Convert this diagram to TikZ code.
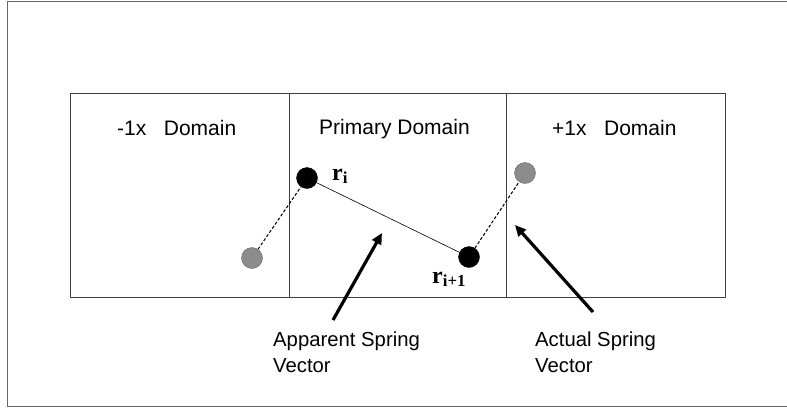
\documentclass[tikz,border=0pt]{standalone}
\usepackage{fontspec}
\setmainfont{Liberation Sans}
\newfontfamily\serifbf{Liberation Serif}
\usetikzlibrary{arrows.meta}
\begin{document}
\begin{tikzpicture}[x=1pt,y=-1pt,
  frame/.style={draw=black!75,line width=1pt},
  lbl/.style={font=\fontsize{21}{26}\selectfont,inner sep=0pt},
  note/.style={font=\fontsize{20.3}{26}\selectfont,inner sep=0pt,align=left},
  rlbl/.style={font=\serifbf\bfseries\fontsize{24}{26}\selectfont,inner sep=0pt},
  blackball/.style={circle,fill=black,draw=black,minimum size=21pt,inner sep=0pt},
  grayball/.style={circle,fill=black!45,draw=black!60,minimum size=21pt,inner sep=0pt},
  spring/.style={draw=black,line width=0.6pt},
  image/.style={draw=black,line width=1pt,dash pattern=on 3pt off 2pt},
  pointer/.style={draw=black,line width=3.2pt,-{Triangle[length=11pt,width=10pt]}}]
\useasboundingbox (0,0) rectangle (787,408);
% outer frame (open on the right)
\draw[draw=black!60,line width=1pt] (787,1) -- (7,1) -- (7,406) -- (787,406);
% domain boxes
\draw[frame] (70,93) rectangle (725,297);
\draw[frame] (289,93) -- (289,297);
\draw[frame] (506,93) -- (506,297);
% titles
\node[lbl,anchor=base west] (tl) at (117,135) {-1x\ \ \ Domain};
\node[lbl,anchor=base] (tm) at (394.5,134) {Primary Domain};
\node[lbl,anchor=base west] (tr) at (552,135) {+1x\ \ \ Domain};
% particles
\node[blackball] (b1) at (307,178) {};
\node[blackball] (b2) at (469,257) {};
\node[grayball] (g1) at (252,258) {};
\node[grayball] (g2) at (525,173) {};
\draw[spring] (b1) -- (b2);
\draw[image] (g1) -- (b1);
\draw[image] (b2) -- (g2);
\node[rlbl,anchor=base west] (ri) at (332,180) {r\textsubscript{i}};
\node[rlbl,anchor=base west] (ri1) at (432,283) {r\textsubscript{i+1}};
% labels and pointers
\node[note,anchor=base west] (app) at (273,372) {Apparent Spring\\Vector};
\node[note,anchor=base west] (act) at (535,372) {Actual Spring\\Vector};
\coordinate (appt) at (333,320);
\coordinate (apph) at (382,233);
\coordinate (actt) at (593,312);
\coordinate (acth) at (515,225);
\draw[pointer] (appt) -- (apph);
\draw[pointer] (actt) -- (acth);
\end{tikzpicture}
\end{document}
